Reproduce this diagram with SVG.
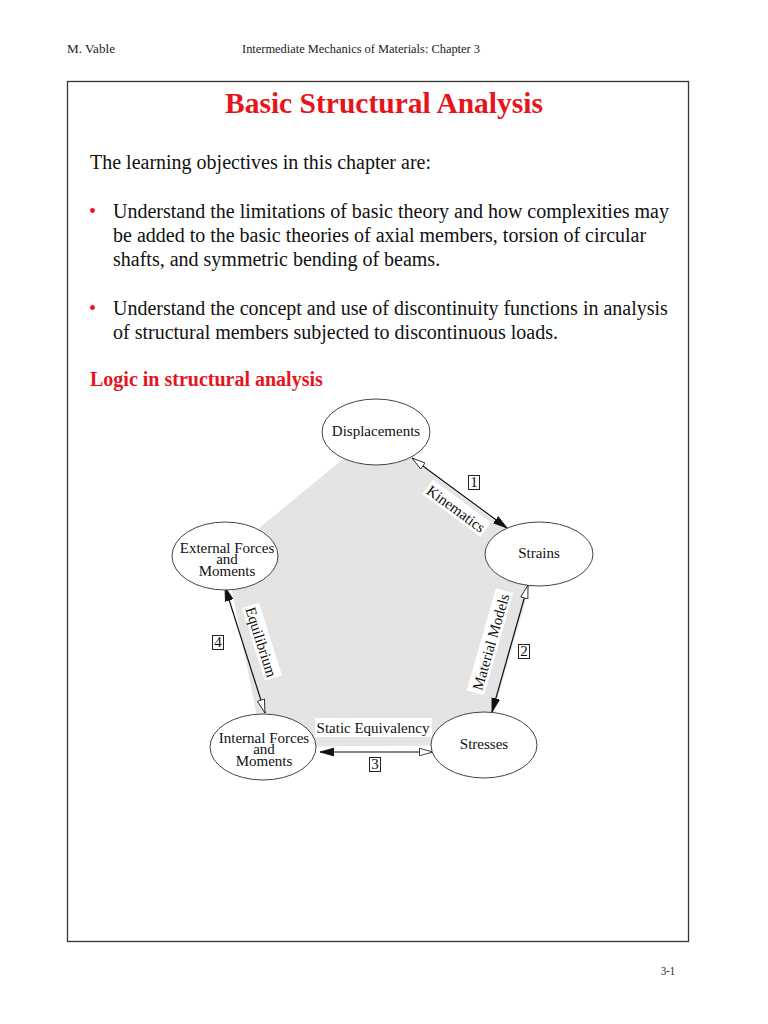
<svg xmlns="http://www.w3.org/2000/svg" width="768" height="1024" viewBox="0 0 768 1024">
<style>
.hdr{font-family:"Liberation Serif","Times New Roman",serif;font-size:13px;fill:#222}
.body{font-family:"Liberation Serif","Times New Roman",serif;font-size:20px;fill:#111}
.red{font-family:"Liberation Serif","Times New Roman",serif;font-weight:bold;fill:#e8141c}
.bul{font-family:"Liberation Serif","Times New Roman",serif;font-size:20px;fill:#e8141c}
.node{fill:#fff;stroke:#444;stroke-width:1}
.lbl{font-family:"Liberation Serif","Times New Roman",serif;font-size:15px;fill:#111;text-anchor:middle}
.num{fill:#fff;stroke:#222;stroke-width:1}
.conn{stroke:#111;stroke-width:1.2;fill:none}
</style>
<defs>
<marker id="filled" markerUnits="userSpaceOnUse" markerWidth="15" markerHeight="10" refX="14" refY="4.5" orient="auto-start-reverse" viewBox="0 0 15 9">
<path d="M0,0.5 L14,4.5 L0,8.5 z" fill="#111" stroke="#111" stroke-width="0.8"/>
</marker>
<marker id="open" markerUnits="userSpaceOnUse" markerWidth="15" markerHeight="10" refX="14" refY="4.5" orient="auto-start-reverse" viewBox="0 0 15 9">
<path d="M0.5,0.8 L14,4.5 L0.5,8.2 z" fill="#fff" stroke="#111" stroke-width="0.8"/>
</marker>
</defs>
<rect width="768" height="1024" fill="#fff"/>
<text class="hdr" x="67" y="53" textLength="48" lengthAdjust="spacingAndGlyphs">M. Vable</text>
<text class="hdr" x="242" y="53" textLength="238" lengthAdjust="spacingAndGlyphs">Intermediate Mechanics of Materials: Chapter 3</text>
<rect x="67.5" y="81.5" width="621" height="860" fill="none" stroke="#333" stroke-width="1.3"/>
<text class="red" x="384" y="113" font-size="29.5" text-anchor="middle">Basic Structural Analysis</text>
<text class="body" x="90" y="169">The learning objectives in this chapter are:</text>
<text class="bul" x="89" y="218">•</text>
<text class="body" x="113" y="218">Understand the limitations of basic theory and how complexities may</text>
<text class="body" x="113" y="242">be added to the basic theories of axial members, torsion of circular</text>
<text class="body" x="113" y="266">shafts, and symmetric bending of beams.</text>
<text class="bul" x="89" y="315">•</text>
<text class="body" x="113" y="315">Understand the concept and use of discontinuity functions in analysis</text>
<text class="body" x="113" y="339">of structural members subjected to discontinuous loads.</text>
<text class="red" x="90" y="386" font-size="20">Logic in structural analysis</text>
<polygon points="376,432 539,554 484,745 263,747 225,556" fill="#e4e4e4"/>
<g id="connectors">
<line class="conn" x1="412" y1="458" x2="507" y2="528" marker-start="url(#open)" marker-end="url(#filled)"/>
<line class="conn" x1="528" y1="585" x2="492" y2="712" marker-start="url(#open)" marker-end="url(#filled)"/>
<line class="conn" x1="433" y1="752" x2="320" y2="752" stroke-width="2.2" marker-start="url(#open)" marker-end="url(#filled)"/>
<line class="conn" x1="265" y1="713" x2="225" y2="587" marker-start="url(#open)" marker-end="url(#filled)"/>
<g transform="translate(456,509) rotate(36.4)">
<rect x="-36" y="-10" width="72" height="18" fill="#fff"/>
<text class="lbl" x="0" y="5">Kinematics</text>
</g>
<g transform="translate(491,642) rotate(-74)">
<rect x="-53" y="-10" width="106" height="18" fill="#fff"/>
<text class="lbl" x="0" y="5">Material Models</text>
</g>
<g transform="translate(261,642) rotate(72.4)">
<rect x="-38" y="-10" width="76" height="18" fill="#fff"/>
<text class="lbl" x="0" y="5">Equilibrium</text>
</g>
<rect x="315" y="718" width="117" height="19" fill="#fff"/>
<text class="lbl" x="373" y="733">Static Equivalency</text>
<rect class="num" x="468.5" y="475.5" width="11" height="14"/>
<text class="lbl" x="474" y="487" font-size="14">1</text>
<rect class="num" x="518.5" y="644.5" width="11" height="14"/>
<text class="lbl" x="524" y="656" font-size="14">2</text>
<rect class="num" x="369.5" y="757.5" width="11" height="14"/>
<text class="lbl" x="375" y="769" font-size="14">3</text>
<rect class="num" x="212.5" y="635.5" width="11" height="14"/>
<text class="lbl" x="218" y="647" font-size="14">4</text>
</g>
<g id="displacements">
<ellipse class="node" cx="376" cy="432" rx="54" ry="33"/>
<text class="lbl" x="376" y="436">Displacements</text>
</g>
<g id="strains">
<ellipse class="node" cx="539" cy="554" rx="54" ry="32"/>
<text class="lbl" x="539" y="558">Strains</text>
</g>
<g id="stresses">
<ellipse class="node" cx="484" cy="745" rx="53" ry="33"/>
<text class="lbl" x="484" y="749">Stresses</text>
</g>
<g id="internal">
<ellipse class="node" cx="263" cy="747" rx="53" ry="33"/>
<text class="lbl" x="264" y="743">Internal Forces</text>
<text class="lbl" x="264" y="754">and</text>
<text class="lbl" x="264" y="766">Moments</text>
</g>
<g id="external">
<ellipse class="node" cx="225" cy="556" rx="53" ry="34"/>
<text class="lbl" x="227" y="553">External Forces</text>
<text class="lbl" x="227" y="564">and</text>
<text class="lbl" x="227" y="576">Moments</text>
</g>
<text class="hdr" x="661" y="975" textLength="14" lengthAdjust="spacingAndGlyphs">3-1</text>
</svg>
